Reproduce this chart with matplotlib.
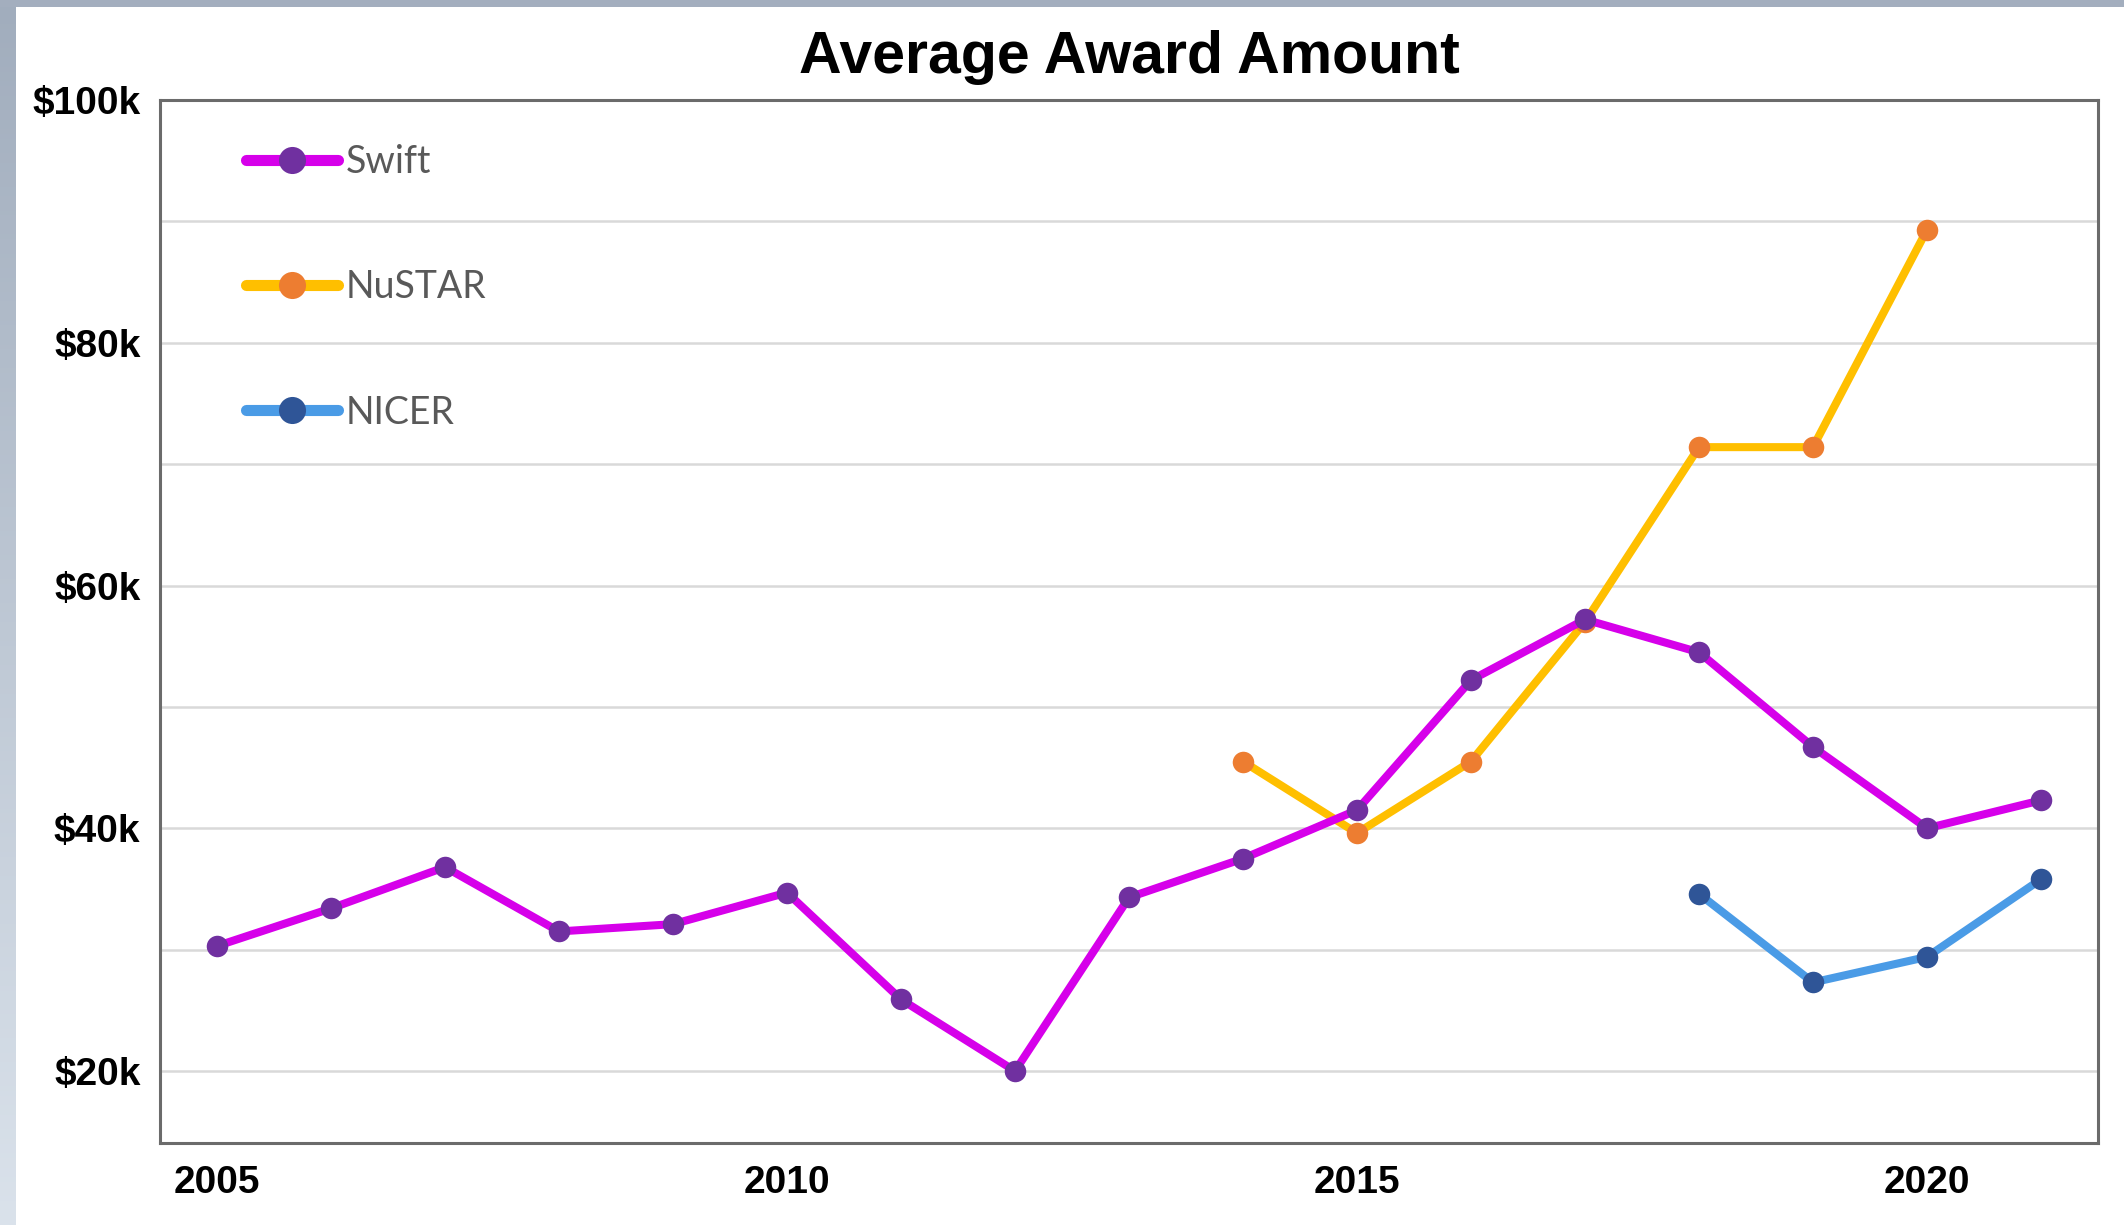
import matplotlib

matplotlib.use("Agg")
import matplotlib.pyplot as plt
import numpy as np
from matplotlib.lines import Line2D
from matplotlib.patches import Rectangle

# data (thousands of dollars)
swift_years = list(range(2005, 2022))
swift_values = [30.3, 33.4, 36.8, 31.5, 32.1, 34.7, 25.9, 20.0, 34.3, 37.5,
                41.5, 52.2, 57.2, 54.5, 46.7, 40.0, 42.3]

nustar_years = [2014, 2015, 2016, 2017, 2018, 2019, 2020]
nustar_values = [45.5, 39.6, 45.5, 57.0, 71.4, 71.4, 89.3]

nicer_years = [2018, 2019, 2020, 2021]
nicer_values = [34.6, 27.3, 29.4, 35.8]

series_names = ["Swift", "NuSTAR", "NICER"]
line_colors = ["#d600ea", "#ffbf00", "#4a9be6"]
marker_colors = ["#7030a0", "#ed7d31", "#2f5597"]

x_ticks = [2005, 2010, 2015, 2020]
y_major = [20, 40, 60, 80, 100]
y_minor = [30, 50, 70, 90]

W, H = 2124, 1225
fig = plt.figure(figsize=(W / 100, H / 100), dpi=100)
fig.patch.set_facecolor("white")

# slide-like frame: grey strip on top, gradient strip on the left
grad = np.linspace(0, 1, 256)[:, None]
top_rgb = np.array([0xa1, 0xad, 0xbd]) / 255
bot_rgb = np.array([0xda, 0xe2, 0xeb]) / 255
img = top_rgb[None, None, :] * (1 - grad[:, :, None]) + bot_rgb[None, None, :] * grad[:, :, None]
ax_bg = fig.add_axes([0, 0, 16 / W, 1])
ax_bg.imshow(img, aspect="auto", extent=[0, 1, 0, 1])
ax_bg.set_axis_off()
fig.add_artist(Rectangle((0, 1 - 7 / H), 1, 7 / H, transform=fig.transFigure,
                         color="#a3aebe", lw=0, zorder=5))

ax = fig.add_axes([160 / W, 1 - 1143 / H, (2098 - 160) / W, (1143 - 100) / H])

series = [
    (swift_years, swift_values),
    (nustar_years, nustar_values),
    (nicer_years, nicer_values),
]
zorders = [5, 4, 3]
for (xs, ys), lc, mc, z in zip(series, line_colors, marker_colors, zorders):
    ax.plot(xs, ys, color=lc, lw=5.8, marker="o", ms=15.5,
            mfc=mc, mec=mc, mew=0, zorder=z, solid_capstyle="round")

ax.set_xlim(2004.5, 2021.5)
ax.set_ylim(14.07, 100)
ax.set_xticks(x_ticks)
ax.set_xticklabels([str(x) for x in x_ticks])
ax.set_yticks(y_major)
ax.set_yticklabels([f"${v}k" for v in y_major])
ax.set_yticks(y_minor, minor=True)
ax.grid(axis="y", which="both", color="#d9d9d9", lw=1.8, zorder=0)
ax.set_axisbelow(True)
ax.tick_params(which="both", length=0)
ax.tick_params(axis="y", pad=14)
ax.tick_params(axis="x", pad=16)
for lab in ax.get_xticklabels() + ax.get_yticklabels():
    lab.set_fontfamily("Liberation Sans")
    lab.set_fontweight("bold")
    lab.set_fontsize(28)
for sp in ax.spines.values():
    sp.set_color("#6b6b6b")
    sp.set_linewidth(2.2)

fig.text(1129 / W, 1 - 73 / H, "Average Award Amount", ha="center", va="baseline",
         fontsize=42.5, fontweight="bold", family="Liberation Sans")

handles = [
    Line2D([], [], color=lc, lw=8, marker="o", ms=19.5, mfc=mc, mec=mc, mew=0,
           solid_capstyle="round")
    for lc, mc in zip(line_colors, marker_colors)
]
leg = ax.legend(handles, series_names, loc="upper left",
                bbox_to_anchor=((246 - 160) / (2098 - 160), (1143 - 144) / (1143 - 100)),
                frameon=False, borderaxespad=0, borderpad=0, handlelength=2.45,
                handletextpad=0.2, labelspacing=2.38,
                prop={"family": "Lato", "size": 27})
for t in leg.get_texts():
    t.set_color("#595959")

fig.savefig("out.png", dpi=100)
